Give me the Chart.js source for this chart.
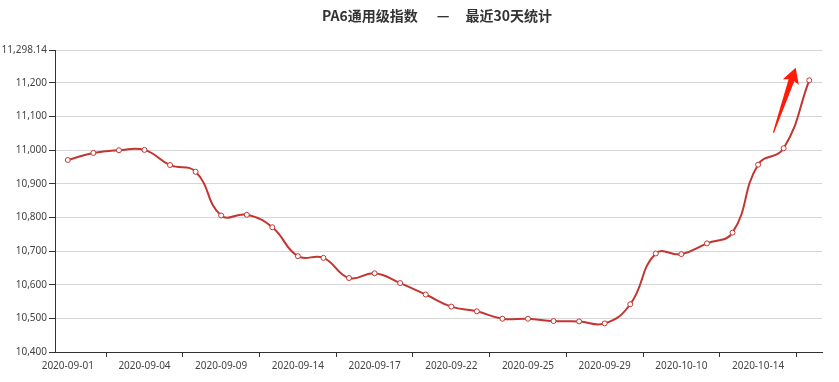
<!DOCTYPE html>
<html><head><meta charset="utf-8">
<script src="https://cdn.jsdelivr.net/npm/chart.js@4/dist/chart.umd.min.js"></script>
<style>
html,body{margin:0;padding:0;background:#fff;}
#wrap{position:relative;width:839px;height:382px;}
#title{position:absolute;top:5px;left:322px;font:bold 14px "Noto Sans CJK SC","Noto Sans",sans-serif;color:#333;white-space:nowrap;line-height:20px;}
#title span{display:inline-block;}
</style></head>
<body>
<div id="wrap">
<canvas id="c" width="839" height="382"></canvas>
<div id="title"><span>PA6通用级指数</span><span style="margin:0 16px 0 19px">—</span><span>最近30天统计</span></div>
</div>
<script>
const categories = ["2020-09-01","2020-09-02","2020-09-03","2020-09-04","2020-09-07","2020-09-08","2020-09-09","2020-09-10","2020-09-11","2020-09-14","2020-09-15","2020-09-16","2020-09-17","2020-09-18","2020-09-21","2020-09-22","2020-09-23","2020-09-24","2020-09-25","2020-09-27","2020-09-28","2020-09-29","2020-09-30","2020-10-09","2020-10-10","2020-10-12","2020-10-13","2020-10-14","2020-10-15","2020-10-16"];
const indexValues = [10971,10992,11000,11001,10956,10936,10806,10808,10771,10685,10680,10620,10634,10605,10571,10535,10521,10499,10499,10492,10491,10485,10542,10693,10691,10723,10755,10957,11006,11208];
const yTickValues = [10400,10500,10600,10700,10800,10900,11000,11100,11200,11298.14];
const arrowTail = {x: 27.6, y: 11052};
const arrowTip = {x: 28.47, y: 11245};

const arrowPlugin = {
  id: 'arrow',
  afterDatasetsDraw(chart) {
    const xs = chart.scales.x, ys = chart.scales.y, ctx = chart.ctx;
    const tx = xs.getPixelForValue(arrowTail.x), ty = ys.getPixelForValue(arrowTail.y);
    const px = xs.getPixelForValue(arrowTip.x), py = ys.getPixelForValue(arrowTip.y);
    const dx = px - tx, dy = py - ty, L = Math.hypot(dx, dy);
    const ux = dx / L, uy = dy / L, nx = -uy, ny = ux;
    const pt = (s, t) => [tx + ux * s + nx * t, ty + uy * s + ny * t];
    const poly = [pt(0, -0.6), pt(L - 13, -3), pt(L - 15, -8.5), pt(L, 0), pt(L - 15, 8.5), pt(L - 13, 3), pt(0, 0.6)];
    ctx.save();
    ctx.beginPath();
    poly.forEach((p, i) => i ? ctx.lineTo(p[0], p[1]) : ctx.moveTo(p[0], p[1]));
    ctx.closePath();
    ctx.fillStyle = '#ff1a0a';
    ctx.fill();
    ctx.restore();
  }
};

new Chart(document.getElementById('c'), {
  type: 'line',
  data: {
    labels: categories,
    datasets: [{
      data: indexValues,
      borderColor: '#c23531',
      borderWidth: 2,
      tension: 0.45,
      pointRadius: 2.5,
      pointBackgroundColor: '#fff',
      pointBorderColor: '#c23531',
      pointBorderWidth: 1,
      fill: false,
      clip: false
    }]
  },
  options: {
    responsive: false,
    animation: false,
    layout: {padding: {top: 50, right: 17, left: 0, bottom: 0}},
    plugins: {legend: {display: false}, tooltip: {enabled: false}, title: {display: false}},
    scales: {
      x: {
        type: 'category',
        offset: true,
        afterFit: s => { s.height = 30; },
        border: {display: true, color: '#333', width: 1},
        grid: {
          offset: true,
          drawOnChartArea: false,
          drawTicks: true,
          tickLength: 5,
          color: c => (c.index % 3 === 2) ? '#333' : 'rgba(0,0,0,0)',
          lineWidth: 1
        },
        ticks: {
          autoSkip: false,
          maxRotation: 0,
          minRotation: 0,
          padding: 3,
          color: '#444',
          font: {family: '"Noto Sans", sans-serif', size: 10},
          callback: function(v, i) { return i % 3 === 0 ? categories[i] : ''; }
        }
      },
      y: {
        min: 10400,
        max: 11298.14,
        afterFit: s => { s.width = 55; },
        afterBuildTicks: s => { s.ticks = yTickValues.map(v => ({value: v})); },
        border: {display: true, color: '#333', width: 1},
        grid: {color: '#d6d6d6', tickColor: '#333', tickLength: 6, lineWidth: 1},
        ticks: {
          padding: 2,
          color: '#444',
          font: {family: '"Noto Sans", sans-serif', size: 10},
          callback: v => v.toLocaleString('en-US', {maximumFractionDigits: 2})
        }
      }
    }
  },
  plugins: [arrowPlugin]
});
</script>
</body></html>
